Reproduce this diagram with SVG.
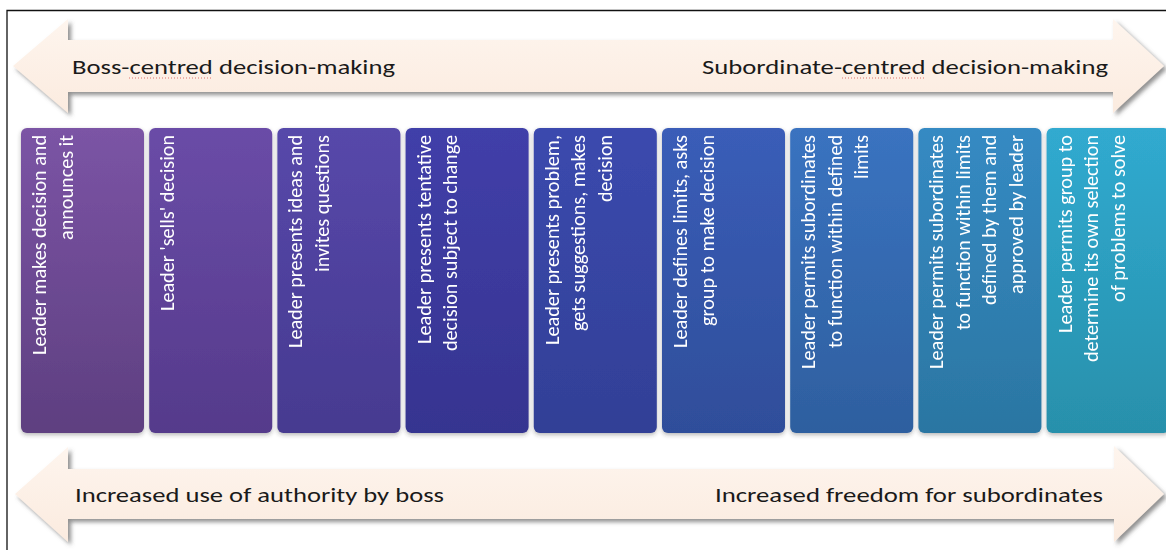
<svg xmlns="http://www.w3.org/2000/svg" width="1166" height="550" viewBox="0 0 1166 550">
<defs>
<style>
.arrow{fill:url(#peach);filter:url(#ashadow)}
.box{filter:url(#bshadow)}
.head{font-family:Carlito,Lato,"Open Sans","Liberation Sans",sans-serif;font-size:20.5px;fill:#1a1a1a}
.lbl{font-family:Carlito,Lato,"Open Sans","Liberation Sans",sans-serif;font-size:20px;fill:#ffffff}
.squig{stroke:#d9534f;stroke-width:1;stroke-dasharray:1 2;fill:none;opacity:.8}
</style>
<linearGradient id="peach" x1="0" y1="0" x2="0" y2="1">
<stop offset="0" stop-color="#FEF5EE"/>
<stop offset="1" stop-color="#FBEBDF"/>
</linearGradient>
<filter id="ashadow" x="-5%" y="-20%" width="110%" height="150%">
<feGaussianBlur in="SourceAlpha" stdDeviation="2"/>
<feOffset dx="3" dy="3" result="b"/>
<feFlood flood-color="#555" flood-opacity="0.65"/>
<feComposite in2="b" operator="in"/>
<feMerge><feMergeNode/><feMergeNode in="SourceGraphic"/></feMerge>
</filter>
<filter id="bshadow" x="-10%" y="-5%" width="120%" height="115%">
<feGaussianBlur in="SourceAlpha" stdDeviation="2"/>
<feOffset dx="0" dy="2" result="b"/>
<feFlood flood-color="#333" flood-opacity="0.35"/>
<feComposite in2="b" operator="in"/>
<feMerge><feMergeNode/><feMergeNode in="SourceGraphic"/></feMerge>
</filter>
<linearGradient id="g1" x1="0" y1="0" x2="0" y2="1"><stop offset="0" stop-color="#7B54A5"/><stop offset="1" stop-color="#5E3F80"/></linearGradient>
<linearGradient id="g2" x1="0" y1="0" x2="0" y2="1"><stop offset="0" stop-color="#6A4CA7"/><stop offset="1" stop-color="#553A8B"/></linearGradient>
<linearGradient id="g3" x1="0" y1="0" x2="0" y2="1"><stop offset="0" stop-color="#5748AA"/><stop offset="1" stop-color="#463A90"/></linearGradient>
<linearGradient id="g4" x1="0" y1="0" x2="0" y2="1"><stop offset="0" stop-color="#413FA9"/><stop offset="1" stop-color="#363490"/></linearGradient>
<linearGradient id="g5" x1="0" y1="0" x2="0" y2="1"><stop offset="0" stop-color="#3B49AE"/><stop offset="1" stop-color="#324096"/></linearGradient>
<linearGradient id="g6" x1="0" y1="0" x2="0" y2="1"><stop offset="0" stop-color="#3A5DB8"/><stop offset="1" stop-color="#2F4E9A"/></linearGradient>
<linearGradient id="g7" x1="0" y1="0" x2="0" y2="1"><stop offset="0" stop-color="#3A73C0"/><stop offset="1" stop-color="#2E5F9F"/></linearGradient>
<linearGradient id="g8" x1="0" y1="0" x2="0" y2="1"><stop offset="0" stop-color="#358AC3"/><stop offset="1" stop-color="#2B76A2"/></linearGradient>
<linearGradient id="g9" x1="0" y1="0" x2="0" y2="1"><stop offset="0" stop-color="#30AAD0"/><stop offset="1" stop-color="#2890AB"/></linearGradient>
</defs>
<rect width="1166" height="550" fill="#ffffff"/>
<path d="M7,550 V10.5 H1166" fill="none" stroke="#111" stroke-width="1.3"/>

<g id="connectors">
<g id="arrow-top">
<polygon class="arrow" points="13,66 68,19 68,40 1113,40 1113,19 1164,66 1113,113 1113,92 68,92 68,113"/>
<text class="head" x="72" y="74" textLength="323" lengthAdjust="spacingAndGlyphs">Boss-centred decision-making</text>
<line class="squig" x1="129" y1="78" x2="213" y2="78"/>
<text class="head" x="702" y="74" textLength="406" lengthAdjust="spacingAndGlyphs">Subordinate-centred decision-making</text>
<line class="squig" x1="842" y1="78" x2="926" y2="78"/>
</g>
<g id="arrow-bottom">
<polygon class="arrow" points="15,494 68,447 68,469 1114,469 1114,446 1164,494 1114,542 1114,519 68,519 68,542"/>
<text class="head" x="75" y="502" textLength="369" lengthAdjust="spacingAndGlyphs">Increased use of authority by boss</text>
<text class="head" x="715" y="502" textLength="388" lengthAdjust="spacingAndGlyphs">Increased freedom for subordinates</text>
</g>
</g>

<g id="box-1" class="box">
<rect x="21" y="128" width="123" height="305" rx="6" fill="url(#g1)"/>
<text class="lbl" transform="rotate(-90)" x="-355" y="46" textLength="220" lengthAdjust="spacingAndGlyphs">Leader makes decision and</text>
<text class="lbl" transform="rotate(-90)" x="-240" y="72.5" textLength="105" lengthAdjust="spacingAndGlyphs">announces it</text>
</g>
<g id="box-2" class="box">
<rect x="149.2" y="128" width="123" height="305" rx="6" fill="url(#g2)"/>
<text class="lbl" transform="rotate(-90)" x="-311" y="174.2" textLength="176" lengthAdjust="spacingAndGlyphs">Leader 'sells' decision</text>
</g>
<g id="box-3" class="box">
<rect x="277.4" y="128" width="123" height="305" rx="6" fill="url(#g3)"/>
<text class="lbl" transform="rotate(-90)" x="-348" y="302.4" textLength="213" lengthAdjust="spacingAndGlyphs">Leader presents ideas and</text>
<text class="lbl" transform="rotate(-90)" x="-272" y="328.9" textLength="137" lengthAdjust="spacingAndGlyphs">invites questions</text>
</g>
<g id="box-4" class="box">
<rect x="405.6" y="128" width="123" height="305" rx="6" fill="url(#g4)"/>
<text class="lbl" transform="rotate(-90)" x="-344" y="430.6" textLength="209" lengthAdjust="spacingAndGlyphs">Leader presents tentative</text>
<text class="lbl" transform="rotate(-90)" x="-351" y="457.1" textLength="216" lengthAdjust="spacingAndGlyphs">decision subject to change</text>
</g>
<g id="box-5" class="box">
<rect x="533.8" y="128" width="123" height="305" rx="6" fill="url(#g5)"/>
<text class="lbl" transform="rotate(-90)" x="-345" y="558.8" textLength="210" lengthAdjust="spacingAndGlyphs">Leader presents problem,</text>
<text class="lbl" transform="rotate(-90)" x="-331" y="585.3" textLength="196" lengthAdjust="spacingAndGlyphs">gets suggestions, makes</text>
<text class="lbl" transform="rotate(-90)" x="-202" y="611.8" textLength="67" lengthAdjust="spacingAndGlyphs">decision</text>
</g>
<g id="box-6" class="box">
<rect x="662" y="128" width="123" height="305" rx="6" fill="url(#g6)"/>
<text class="lbl" transform="rotate(-90)" x="-348" y="687" textLength="213" lengthAdjust="spacingAndGlyphs">Leader defines limits, asks</text>
<text class="lbl" transform="rotate(-90)" x="-326" y="713.5" textLength="191" lengthAdjust="spacingAndGlyphs">group to make decision</text>
</g>
<g id="box-7" class="box">
<rect x="790.2" y="128" width="123" height="305" rx="6" fill="url(#g7)"/>
<text class="lbl" transform="rotate(-90)" x="-369" y="815.2" textLength="234" lengthAdjust="spacingAndGlyphs">Leader permits subordinates</text>
<text class="lbl" transform="rotate(-90)" x="-348" y="841.7" textLength="213" lengthAdjust="spacingAndGlyphs">to function within defined</text>
<text class="lbl" transform="rotate(-90)" x="-179" y="868.2" textLength="44" lengthAdjust="spacingAndGlyphs">limits</text>
</g>
<g id="box-8" class="box">
<rect x="918.4" y="128" width="123" height="305" rx="6" fill="url(#g8)"/>
<text class="lbl" transform="rotate(-90)" x="-369" y="943.4" textLength="234" lengthAdjust="spacingAndGlyphs">Leader permits subordinates</text>
<text class="lbl" transform="rotate(-90)" x="-330" y="969.9" textLength="195" lengthAdjust="spacingAndGlyphs">to function within limits</text>
<text class="lbl" transform="rotate(-90)" x="-305" y="996.4" textLength="170" lengthAdjust="spacingAndGlyphs">defined by them and</text>
<text class="lbl" transform="rotate(-90)" x="-294" y="1022.9" textLength="159" lengthAdjust="spacingAndGlyphs">approved by leader</text>
</g>
<g id="box-9" class="box">
<rect x="1046.6" y="128" width="123" height="305" rx="6" fill="url(#g9)"/>
<text class="lbl" transform="rotate(-90)" x="-333" y="1071.6" textLength="198" lengthAdjust="spacingAndGlyphs">Leader permits group to</text>
<text class="lbl" transform="rotate(-90)" x="-362" y="1098.1" textLength="227" lengthAdjust="spacingAndGlyphs">determine its own selection</text>
<text class="lbl" transform="rotate(-90)" x="-302" y="1124.6" textLength="167" lengthAdjust="spacingAndGlyphs">of problems to solve</text>
</g>
</svg>
